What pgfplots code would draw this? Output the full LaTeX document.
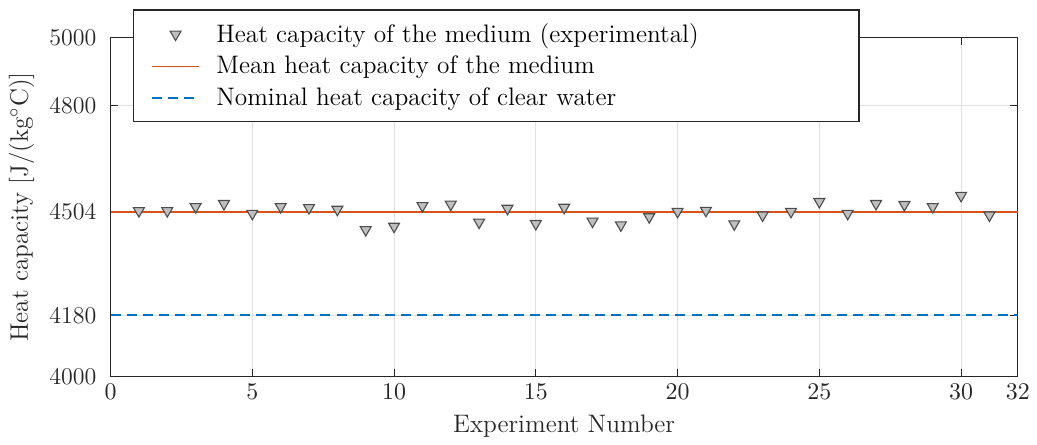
\documentclass[border=0pt]{standalone}
\usepackage{pgfplots}
\pgfplotsset{compat=1.18}
\definecolor{mlorange}{HTML}{D95319}
\definecolor{mlblue}{HTML}{0072BD}
\definecolor{axgray}{rgb}{0.15,0.15,0.15}
\pgfplotstableread{
x y
1 4489
2 4489
3 4501
4 4510
5 4481
6 4501
7 4498
8 4493
9 4433
10 4443
11 4504
12 4508
13 4455
14 4496
15 4451
16 4499
17 4458
18 4447
19 4471
20 4487
21 4490
22 4450
23 4476
24 4487
25 4516
26 4481
27 4510
28 4507
29 4501
30 4534
31 4476
}\datatable
\begin{document}
\begin{tikzpicture}
\begin{axis}[
  scale only axis,
  width=416pt, height=155.3pt,
  xmin=0, xmax=32, ymin=4000, ymax=5000,
  xtick={0,5,10,15,20,25,30,32},
  ytick={4000,4180,4485,4800,5000},
  yticklabels={4000,4180,4504,4800,5000},
  tick align=inside,
  major tick length=3.5pt,
  tick style={color=axgray, line width=0.5pt},
  axis line style={color=axgray, line width=0.6pt},
  grid=major,
  major grid style={color=black!12, line width=0.5pt},
  ticklabel style={font=\fontsize{11}{13}\selectfont, text=axgray},
  yticklabel style={xshift=-3pt},
  label style={font=\fontsize{11.6}{13}\selectfont, text=axgray},
  xlabel={Experiment Number},
  ylabel={Heat capacity [J/(kg$^\circ$C)]},
  legend image code/.code={\draw[mark repeat=2,mark phase=2,#1] plot coordinates {(0cm,0cm) (0.385cm,0cm) (0.77cm,0cm)};},
  legend style={at={(0,1)}, anchor=north west, xshift=10.1pt, yshift=13pt,
    font=\fontsize{11.6}{13}\selectfont, row sep=0.8pt, column sep=5.3pt,
    inner xsep=8pt, inner ysep=4pt, fill=white, draw=axgray, line width=0.6pt},
  legend cell align=left,
]
\addplot[only marks, mark=triangle*, mark size=2.9pt,
  mark options={rotate=180, fill=black!25, draw=black!70, line width=0.5pt, solid}]
  table[x=x,y=y]{\datatable};
\addlegendentry{Heat capacity of the medium (experimental)\rule{63.5pt}{0pt}}
\addplot[color=mlorange, line width=0.8pt] coordinates {(0,4485) (32,4485)};
\addlegendentry{Mean heat capacity of the medium}
\addplot[color=mlblue, line width=0.9pt, dash pattern=on 4.6pt off 2.8pt] coordinates {(0,4180) (32,4180)};
\addlegendentry{Nominal heat capacity of clear water}
\end{axis}
\path[use as bounding box] (current axis.south west) ++(-50.7pt,-28.5pt) rectangle ++(475pt,201.1pt);
\end{tikzpicture}
\end{document}
